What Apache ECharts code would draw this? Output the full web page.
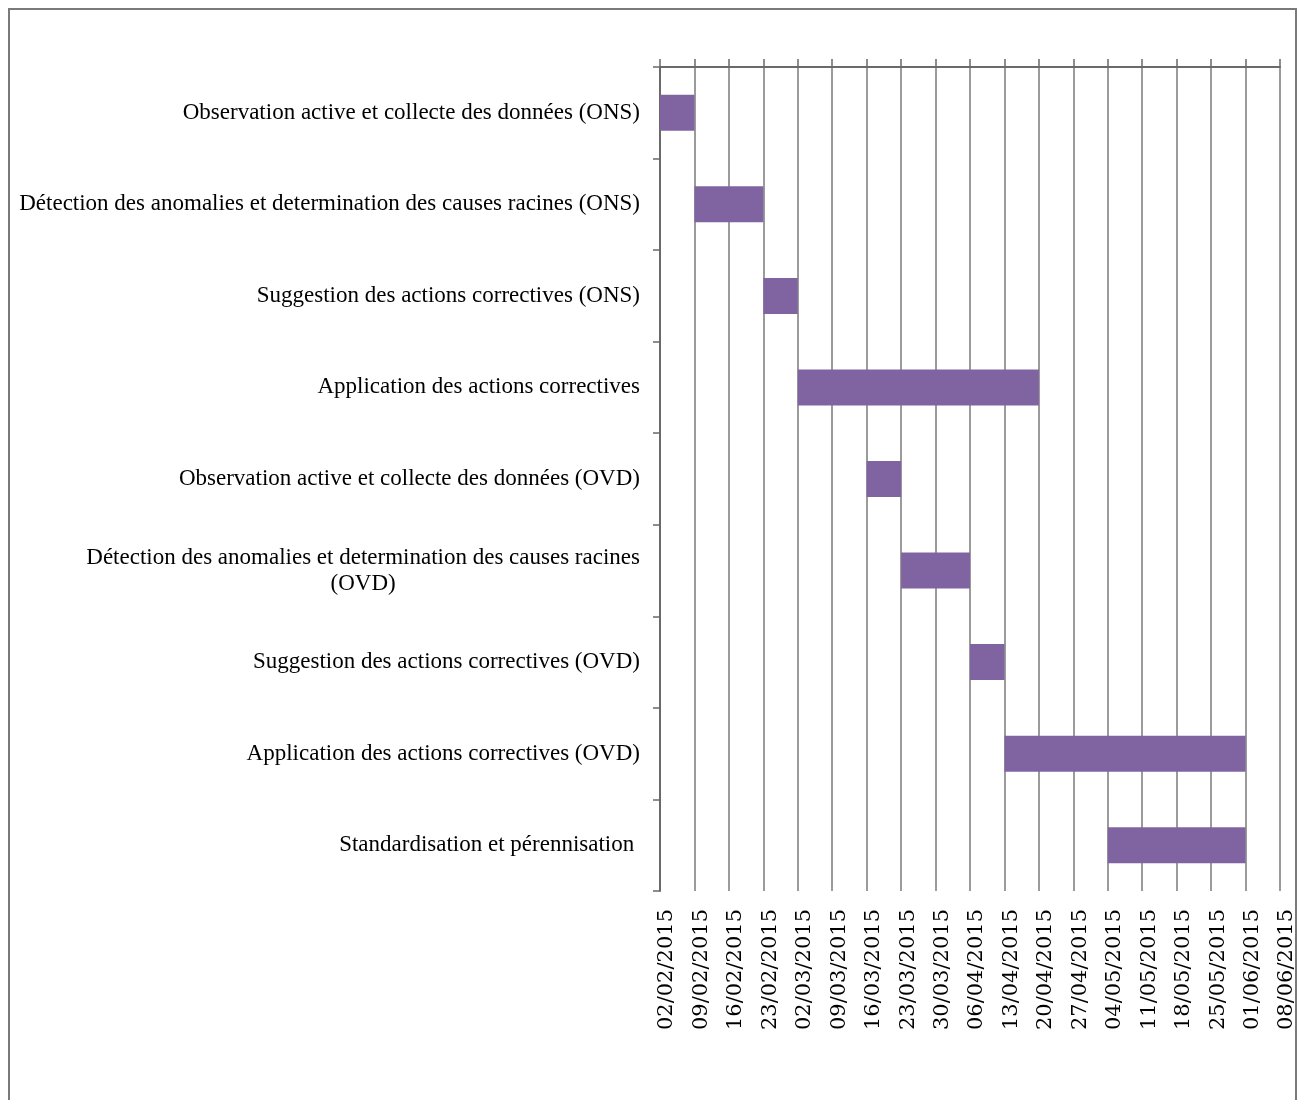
<!DOCTYPE html>
<html>
<head>
<meta charset="utf-8">
<script src="https://cdn.jsdelivr.net/npm/echarts@6/dist/echarts.min.js"></script>
<style>
html,body{margin:0;padding:0;background:#fff;}
#chart{width:1303px;height:1100px;}
</style>
</head>
<body>
<div id="chart"></div>
<script>
const categories = [
  'Observation active et collecte des données (ONS)',
  'Détection des anomalies et determination des causes racines (ONS)',
  'Suggestion des actions correctives (ONS)',
  'Application des actions correctives',
  'Observation active et collecte des données (OVD)',
  'Détection des anomalies et determination des causes racines\n(OVD)',
  'Suggestion des actions correctives (OVD)',
  'Application des actions correctives (OVD)',
  'Standardisation et pérennisation '
];
const startDates = ['2015-02-02','2015-02-09','2015-02-23','2015-03-02','2015-03-16','2015-03-23','2015-04-06','2015-04-13','2015-05-04'];
const endDates   = ['2015-02-09','2015-02-23','2015-03-02','2015-04-20','2015-03-23','2015-04-06','2015-04-13','2015-06-01','2015-06-01'];
const tickLabels = ['02/02/2015','09/02/2015','16/02/2015','23/02/2015','02/03/2015','09/03/2015','16/03/2015','23/03/2015','30/03/2015','06/04/2015','13/04/2015','20/04/2015','27/04/2015','04/05/2015','11/05/2015','18/05/2015','25/05/2015','01/06/2015','08/06/2015'];

const origin = Date.UTC(2015,1,2);
const DAY = 86400000;
function dayOffset(s){const p=s.split('-');return Math.round((Date.UTC(+p[0],+p[1]-1,+p[2])-origin)/DAY);}
const startVals = startDates.map(dayOffset);
const durVals = endDates.map((e,i)=>dayOffset(e)-startVals[i]);
const axisMax = (tickLabels.length-1)*7;

const LABEL_FONT = 'Liberation Serif';
const AXIS_COLOR = '#6a6a6a';
const chart = echarts.init(document.getElementById('chart'));
chart.setOption({
  backgroundColor:'#ffffff',
  animation:false,
  graphic:[{type:'rect',shape:{x:9,y:9,width:1287,height:1200},style:{fill:'none',stroke:'#7a7a7a',lineWidth:2},silent:true,z:-1}],
  grid:{left:660,right:23,top:67,bottom:209,containLabel:false},
  xAxis:[{
    type:'value',position:'top',min:0,max:axisMax,interval:7,
    axisLine:{show:true,lineStyle:{color:AXIS_COLOR,width:2}},
    axisTick:{show:true,inside:false,length:8,lineStyle:{color:AXIS_COLOR,width:1.5}},
    axisLabel:{show:false},
    splitLine:{show:true,lineStyle:{color:'#7a7a7a',width:1.5}}
  },{
    type:'value',position:'bottom',min:0,max:axisMax,interval:7,
    axisLine:{show:false},axisTick:{show:false},splitLine:{show:false},
    axisLabel:{show:true,rotate:90,margin:18,color:'#000',fontFamily:'DejaVu Serif',fontSize:21,
      verticalAlign:'top',lineHeight:14,
      formatter:function(v){return tickLabels[Math.round(v/7)]||'';}}
  }],
  yAxis:{
    type:'category',inverse:true,data:categories,
    axisLine:{show:true,lineStyle:{color:AXIS_COLOR,width:2}},
    axisTick:{show:true,length:7,interval:0,lineStyle:{color:AXIS_COLOR,width:1.5}},
    splitLine:{show:false},
    axisLabel:{margin:20,color:'#000',fontFamily:LABEL_FONT,fontSize:23,interval:0,
      formatter:function(v){
        if(v.indexOf('\n')>=0){const p=v.split('\n');return '{a|'+p[0]+'}\n{b|'+p[1]+'}';}
        return v;
      },
      rich:{a:{fontFamily:LABEL_FONT,fontSize:23,color:'#000',lineHeight:26},b:{fontFamily:LABEL_FONT,fontSize:23,color:'#000',lineHeight:26,align:'center'}}
    }
  },
  series:[{
    type:'bar',stack:'g',xAxisIndex:0,data:startVals,barWidth:36,silent:true,
    itemStyle:{color:'rgba(0,0,0,0)'}
  },{
    type:'bar',stack:'g',xAxisIndex:0,data:durVals,barWidth:36,
    itemStyle:{color:'#8064A2'}
  }]
});
</script>
</body>
</html>
